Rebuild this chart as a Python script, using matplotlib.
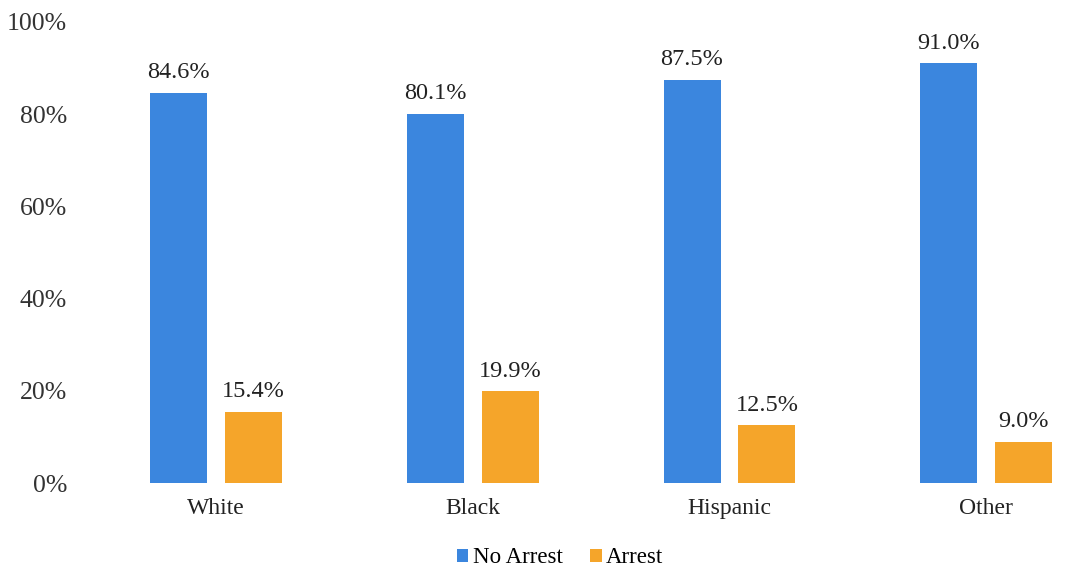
import matplotlib.pyplot as plt
import matplotlib.ticker as mtick
import numpy as np

plt.rcParams['font.family'] = ['Liberation Serif', 'DejaVu Serif']

groups = ['White', 'Black', 'Hispanic', 'Other']
no_arrest = [84.6, 80.1, 87.5, 91.0]
arrest = [15.4, 19.9, 12.5, 9.0]
series_names = ['No Arrest', 'Arrest']
colours = ['#3b86de', '#f5a52a']

x = np.arange(len(groups))
w = 0.222
off = 0.146

fig = plt.figure(figsize=(10.67, 5.69), dpi=100)
ax = fig.add_axes([88 / 1067, (569 - 483) / 569, 1 - 88 / 1067, 461 / 569])

b1 = ax.bar(x - off, no_arrest, w, color=colours[0], label=series_names[0])
b2 = ax.bar(x + off, arrest, w, color=colours[1], label=series_names[1])

for bars, vals in [(b1, no_arrest), (b2, arrest)]:
    for b, v in zip(bars, vals):
        ax.annotate(f'{v:.1f}%', (b.get_x() + b.get_width() / 2, v),
                    xytext=(0, 7), textcoords='offset points',
                    ha='center', va='bottom', fontsize=17.5, color='#222222')

ax.set_xlim(-0.5, -0.5 + (1067 - 88) / 256.6)
ax.set_ylim(0, 100)
ax.set_yticks(range(0, 101, 20))
ax.yaxis.set_major_formatter(mtick.StrMethodFormatter('{x:.0f}%'))
ax.set_xticks(x)
ax.set_xticklabels(groups)
ax.tick_params(axis='y', length=0, pad=15, labelsize=18.5, labelcolor='#333333')
ax.tick_params(axis='x', length=0, pad=11, labelsize=17, labelcolor='#222222')
for s in ax.spines.values():
    s.set_visible(False)

fig.legend(loc='lower center', bbox_to_anchor=(0.525, -0.035), ncol=2,
           frameon=False, fontsize=16.5, handlelength=0.5, handleheight=0.5,
           handletextpad=0.2, columnspacing=1.2)

plt.savefig('out.png', dpi=100)
